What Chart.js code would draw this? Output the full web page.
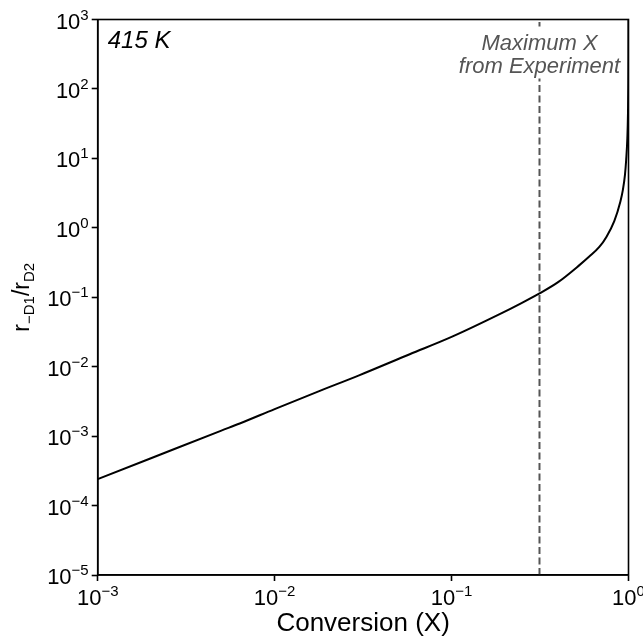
<!DOCTYPE html>
<html>
<head>
<meta charset="utf-8">
<script src="https://cdn.jsdelivr.net/npm/chart.js@4.4.1/dist/chart.umd.min.js"></script>
<style>
  html, body { margin: 0; padding: 0; background: #fff; }
  #wrap { width: 643px; height: 636px; }
</style>
</head>
<body>
<div id="wrap"><canvas id="ratioChart"></canvas></div>
<script>
// conversion X and rate ratio r(-D1)/r(D2) at 415 K
const conversion = [0.001, 0.002, 0.005, 0.00635, 0.01, 0.018, 0.03, 0.058, 0.1, 0.187, 0.25, 0.314, 0.4, 0.528, 0.6, 0.684, 0.75, 0.831, 0.9, 0.929, 0.955, 0.97, 0.985, 0.993, 0.997, 0.999, 0.9997];
const ratio = [2.4e-4, 4.8e-4, 1.2e-3, 1.52e-3, 2.45e-3, 4.48e-3, 7.5e-3, 0.0151, 0.0268, 0.057, 0.083, 0.1135, 0.165, 0.29, 0.385, 0.53, 0.74, 1.25, 2.4, 3.49, 5.8, 9.46, 19.5, 43, 105, 330, 1150];

const maxExperimentX = 0.314;
const xTicks = [1e-3, 1e-2, 1e-1, 1e0];
const yTicks = [1e-5, 1e-4, 1e-3, 1e-2, 1e-1, 1e0, 1e1, 1e2, 1e3];

const FONT = '"Liberation Sans", Arial, sans-serif';

// draws "10" with a raised exponent, anchored by align ('center' | 'right')
function drawPow(ctx, exp, x, y, align) {
    const base = '22px ' + FONT, sup = '15px ' + FONT;
    const e = exp < 0 ? '\u2212' + Math.abs(exp) : String(exp);
    ctx.font = base;
    const wb = ctx.measureText('10').width;
    ctx.font = sup;
    const ws = ctx.measureText(e).width;
    const total = wb + ws;
    let left = align === 'right' ? x - total : x - total / 2;
    ctx.fillStyle = '#000';
    ctx.textAlign = 'left';
    ctx.textBaseline = 'alphabetic';
    ctx.font = base;
    ctx.fillText('10', left, y);
    ctx.font = sup;
    ctx.fillText(e, left + wb, y - 9);
}

const labelPlugin = {
    id: 'labels',
    afterDraw(chart) {
        const ctx = chart.ctx;
        const area = chart.chartArea;
        const xs = chart.scales.x, ys = chart.scales.y;
        ctx.save();

        // frame on all four sides
        ctx.strokeStyle = '#000';
        ctx.lineWidth = 1.6;
        ctx.strokeRect(area.left, area.top, area.right - area.left, area.bottom - area.top);

        // tick labels
        xs.ticks.forEach(t => {
            drawPow(ctx, Math.round(Math.log10(t.value)), xs.getPixelForValue(t.value), area.bottom + 30, 'center');
        });
        ys.ticks.forEach(t => {
            drawPow(ctx, Math.round(Math.log10(t.value)), area.left - 9, ys.getPixelForValue(t.value) + 9, 'right');
        });

        // x axis title
        ctx.font = '26px ' + FONT;
        ctx.textAlign = 'center';
        ctx.fillStyle = '#000';
        ctx.fillText('Conversion (X)', (area.left + area.right) / 2, 631);

        // y axis title with subscripts
        const parts = [['r', 0], ['\u2212D1', 1], ['/', 0], ['r', 0], ['D2', 1]];
        const big = '23px ' + FONT, small = '15px ' + FONT;
        let w = 0;
        parts.forEach(p => { ctx.font = p[1] ? small : big; w += ctx.measureText(p[0]).width; });
        ctx.translate(29, (area.top + area.bottom) / 2);
        ctx.rotate(-Math.PI / 2);
        ctx.textAlign = 'left';
        let cx = -w / 2;
        parts.forEach(p => {
            ctx.font = p[1] ? small : big;
            ctx.fillText(p[0], cx, p[1] ? 5 : 0);
            cx += ctx.measureText(p[0]).width;
        });
        ctx.setTransform(1, 0, 0, 1, 0, 0);

        // temperature label
        ctx.font = 'italic 24px ' + FONT;
        ctx.textAlign = 'left';
        ctx.fillStyle = '#000';
        ctx.fillText('415 K', area.left + 10, area.top + 28);

        // annotation for the dashed line, on a white box
        const ax = xs.getPixelForValue(maxExperimentX);
        ctx.font = 'italic 22px ' + FONT;
        ctx.textAlign = 'center';
        const l1 = 'Maximum X', l2 = 'from Experiment';
        const bw = ctx.measureText(l2).width;
        ctx.fillStyle = '#fff';
        ctx.fillRect(ax - bw / 2 - 2, area.top + 7, bw + 4, 52);
        ctx.fillStyle = '#555';
        ctx.fillText(l1, ax, area.top + 30);
        ctx.fillText(l2, ax, area.top + 53);
        ctx.restore();
    }
};

const ctx = document.getElementById('ratioChart').getContext('2d');
new Chart(ctx, {
    type: 'line',
    data: {
        datasets: [
            {
                label: 'ratio',
                data: conversion.map((x, i) => ({ x: x, y: ratio[i] })),
                borderColor: '#000',
                borderWidth: 2,
                pointRadius: 0,
                cubicInterpolationMode: 'monotone',
                fill: false
            },
            {
                label: 'max X',
                data: [{ x: maxExperimentX, y: yTicks[0] }, { x: maxExperimentX, y: yTicks[yTicks.length - 1] }],
                borderColor: '#555',
                borderWidth: 2,
                borderDash: [7, 3.5],
                pointRadius: 0,
                fill: false
            }
        ]
    },
    options: {
        responsive: true,
        maintainAspectRatio: false,
        animation: false,
        layout: { padding: { left: 0, top: 19.5, right: 14.5, bottom: 0 } },
        plugins: {
            legend: { display: false },
            tooltip: { enabled: false }
        },
        scales: {
            x: {
                type: 'logarithmic',
                min: xTicks[0],
                max: xTicks[xTicks.length - 1],
                afterBuildTicks: s => { s.ticks = xTicks.map(v => ({ value: v })); },
                afterFit: s => { s.height = 61; },
                ticks: { display: false },
                grid: { drawOnChartArea: false, drawTicks: true, tickLength: 6, tickWidth: 1.6, tickColor: '#000' },
                border: { display: true, color: '#000', width: 1.6 }
            },
            y: {
                type: 'logarithmic',
                min: yTicks[0],
                max: yTicks[yTicks.length - 1],
                afterBuildTicks: s => { s.ticks = yTicks.map(v => ({ value: v })); },
                afterFit: s => { s.width = 97.7; },
                ticks: { display: false },
                grid: { drawOnChartArea: false, drawTicks: true, tickLength: 6, tickWidth: 1.6, tickColor: '#000' },
                border: { display: true, color: '#000', width: 1.6 }
            }
        }
    },
    plugins: [labelPlugin]
});
</script>
</body>
</html>
